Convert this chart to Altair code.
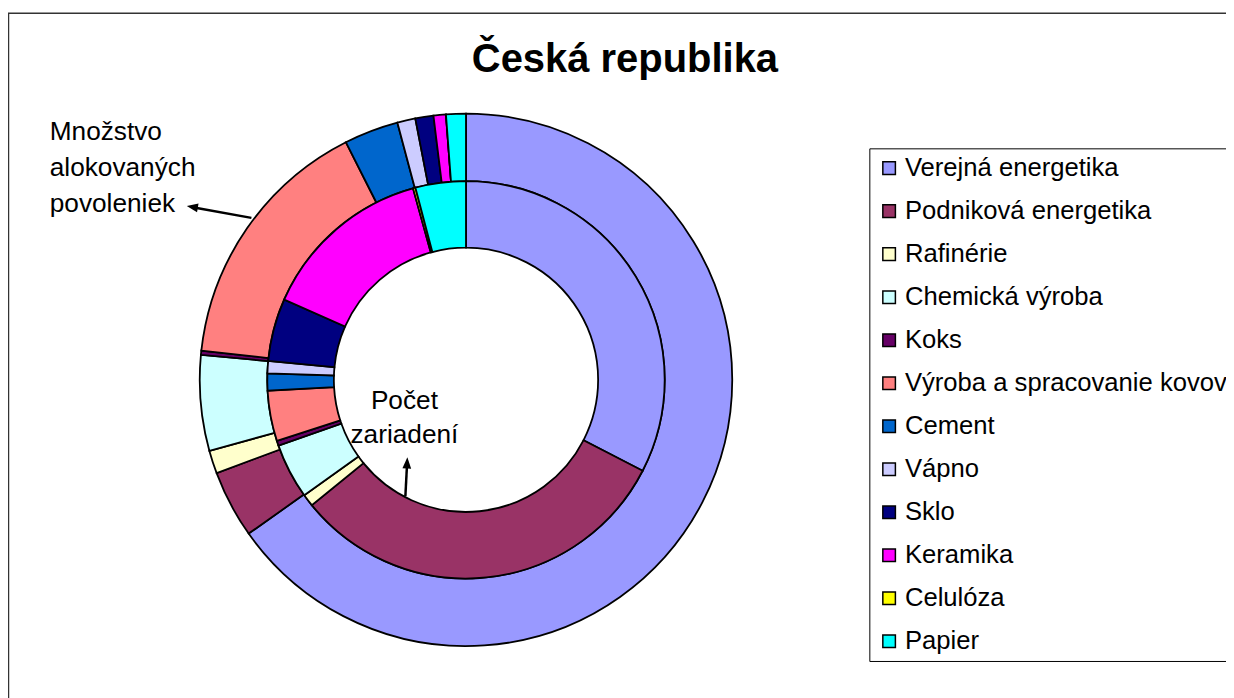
import altair as alt
import pandas as pd

# ---- data (shares in %) ----
categories = [
    "Verejná energetika",
    "Podniková energetika",
    "Rafinérie",
    "Chemická výroba",
    "Koks",
    "Výroba a spracovanie kovov",
    "Cement",
    "Vápno",
    "Sklo",
    "Keramika",
    "Celulóza",
    "Papier",
]
colors = [
    "#9999FF", "#993366", "#FFFFCC", "#CCFFFF", "#660066", "#FF8080",
    "#0066CC", "#CCCCFF", "#000080", "#FF00FF", "#FFFF00", "#00FFFF",
]
# outer ring: Množstvo alokovaných povoleniek
allowances = [65.2, 4.1, 1.4, 5.8, 0.25, 15.8, 3.3, 1.1, 1.1, 0.75, 0.0, 1.2]
# inner ring: Počet zariadení
installations = [32.6, 31.6, 1.0, 4.5, 0.4, 4.1, 1.4, 1.0, 5.1, 14.1, 0.2, 4.1]

title_text = "Česká republika"
outer_label = "Množstvo\nalokovaných\npovoleniek"
inner_label = "Počet\nzariadení"

FONT = "Liberation Sans"

df_outer = pd.DataFrame({"cat": categories, "value": allowances, "idx": range(len(categories))})
df_inner = pd.DataFrame({"cat": categories, "value": installations, "idx": range(len(categories))})

CX, CY = 461, 372

color = alt.Color(
    "cat:N",
    scale=alt.Scale(domain=categories, range=colors),
    legend=alt.Legend(
        title=None,
        orient="none",
        legendX=867,
        legendY=139,
        symbolType="square",
        symbolSize=160,
        symbolStrokeColor="black",
        symbolStrokeWidth=1.5,
        symbolOpacity=1,
        labelFont=FONT,
        labelFontSize=25.8,
        labelColor="black",
        labelLimit=600,
        labelOffset=3,
        rowPadding=16.3,
        padding=7,
        fillColor="white",
        strokeColor="black",
        cornerRadius=0,
    ),
)

outer = alt.Chart(df_outer).mark_arc(
    innerRadius=200, outerRadius=268, stroke="black", strokeWidth=1.8
).encode(
    theta=alt.Theta("value:Q", stack=True),
    color=color,
    order=alt.Order("idx:Q"),
    x=alt.value(CX),
    y=alt.value(CY),
)

inner = alt.Chart(df_inner).mark_arc(
    innerRadius=133, outerRadius=200, stroke="black", strokeWidth=1.8
).encode(
    theta=alt.Theta("value:Q", stack=True),
    color=color,
    order=alt.Order("idx:Q"),
    x=alt.value(CX),
    y=alt.value(CY),
)

anno_df = pd.DataFrame({"k": [0]})

border = alt.Chart(anno_df).mark_rect(
    fillOpacity=0, stroke="#333333", strokeWidth=1.5
).encode(x=alt.value(0.5), y=alt.value(3), x2=alt.value(1400), y2=alt.value(900))

title = alt.Chart(anno_df).mark_text(
    font=FONT, fontSize=40.2, fontWeight="bold", align="center", baseline="alphabetic", color="black"
).encode(x=alt.value(621), y=alt.value(62), text=alt.value(title_text))

lbl_outer = alt.Chart(anno_df).mark_text(
    font=FONT, fontSize=26.4, align="left", baseline="alphabetic", lineBreak="\n", lineHeight=36, color="black"
).encode(x=alt.value(42), y=alt.value(131), text=alt.value(outer_label))

lbl_inner = alt.Chart(anno_df).mark_text(
    font=FONT, fontSize=26.4, align="center", baseline="alphabetic", lineBreak="\n", lineHeight=35, color="black"
).encode(x=alt.value(399), y=alt.value(401), text=alt.value(inner_label))

arrow_shape = "M0,0L0.55,1.4L-0.55,1.4Z"

arrow1_line = alt.Chart(anno_df).mark_rule(color="black", strokeWidth=2.5).encode(
    x=alt.value(245), y=alt.value(209), x2=alt.value(190), y2=alt.value(199)
)
arrow1_head = alt.Chart(anno_df).mark_point(
    shape=arrow_shape, filled=True, color="black", size=256, angle=280, opacity=1
).encode(x=alt.value(180), y=alt.value(197))

arrow2_line = alt.Chart(anno_df).mark_rule(color="black", strokeWidth=2.5).encode(
    x=alt.value(400), y=alt.value(489), x2=alt.value(401.5), y2=alt.value(460)
)
arrow2_head = alt.Chart(anno_df).mark_point(
    shape=arrow_shape, filled=True, color="black", size=256, angle=3, opacity=1
).encode(x=alt.value(402), y=alt.value(450))

chart = alt.layer(
    border, outer, inner, title, lbl_outer, lbl_inner,
    arrow1_line, arrow1_head, arrow2_line, arrow2_head,
).resolve_scale(theta="independent").properties(
    width=1226, height=690, autosize="none", padding=0, background="white"
).configure_view(strokeWidth=0)

chart.save("out.html", embed_options={"renderer": "svg", "actions": False})
